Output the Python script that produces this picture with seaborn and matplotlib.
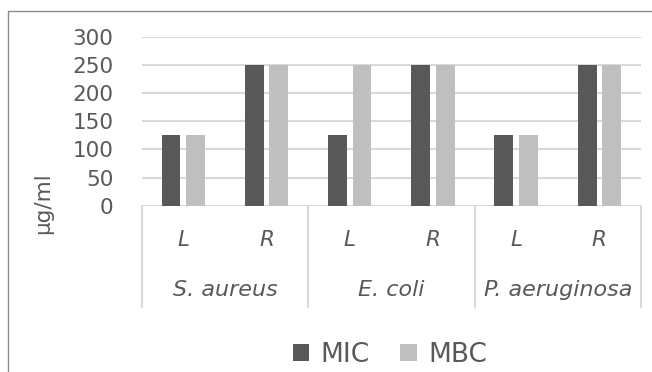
import matplotlib
matplotlib.use("Agg")
import matplotlib.pyplot as plt
import matplotlib.transforms as mtransforms
from matplotlib.lines import Line2D
from matplotlib.patches import Patch
import pandas as pd
import seaborn as sns

# Data
species = ["S. aureus", "E. coli", "P. aeruginosa"]
extracts = ["L", "R"]
mic = [125, 250, 125, 250, 125, 250]
mbc = [125, 250, 250, 250, 125, 250]
series = ["MIC", "MBC"]
colors = {"MIC": "#595959", "MBC": "#BFBFBF"}
yticks = [0, 50, 100, 150, 200, 250, 300]

positions = [f"{s} {e}" for s in species for e in extracts]
df = pd.DataFrame({
    "pos": positions * 2,
    "value": mic + mbc,
    "metric": ["MIC"] * len(mic) + ["MBC"] * len(mbc),
})

sns.set_theme(style="white")
plt.rcParams["font.family"] = ["DejaVu Sans"]
text_color = "#595959"
grid_color = "#D9D9D9"

W, H = 652, 372
fig = plt.figure(figsize=(W / 100, H / 100), dpi=100)
fig.patch.set_facecolor("white")

def fx(px):
    return px / W

def fy(py):
    return 1 - py / H

left, right, top, bottom = 141.7, 641.0, 36.7, 205.7
ax = fig.add_axes([fx(left), fy(bottom), fx(right - left), (bottom - top) / H])

sns.barplot(data=df, x="pos", y="value", hue="metric", order=positions,
            hue_order=series, palette=colors, width=0.59, gap=0.23,
            linewidth=0, legend=False, ax=ax)

ax.set_xlim(-0.5, len(positions) - 0.5)
ax.set_ylim(0, 300)
ax.set_yticks(yticks)
ax.set_yticklabels([str(v) for v in yticks], fontsize=15.5, color=text_color)
ax.tick_params(axis="y", length=0, pad=20.5)
ax.tick_params(axis="x", length=0, labelbottom=False)
ax.set_xlabel("")
ax.set_ylabel("")
for sp in ax.spines.values():
    sp.set_visible(False)
ax.yaxis.grid(True, color=grid_color, linewidth=1.5)
ax.set_axisbelow(True)

# Multi-level category axis
blend = mtransforms.blended_transform_factory(ax.transData, fig.transFigure)
for i, pos in enumerate(positions):
    ax.text(i, fy(240), pos.split(" ")[-1], transform=blend, ha="center",
            va="center", fontsize=15.5, style="italic", color=text_color)
for j, s in enumerate(species):
    ax.text(2 * j + 0.5, fy(290), s, transform=blend, ha="center",
            va="center", fontsize=16, style="italic", color=text_color)
for xb in [-0.5, 1.5, 3.5, 5.5]:
    ax.add_line(Line2D([xb, xb], [fy(bottom), fy(307)], transform=blend,
                       color=grid_color, linewidth=1.5, clip_on=False))

# Y-axis title
fig.text(fx(43), fy(203), "µg/ml", rotation=90, ha="center", va="center",
         fontsize=15.5, color=text_color)

# Chart frame
frame_color = "#8C8C8C"
fig.add_artist(Line2D([fx(8), fx(8)], [fy(11), 0], color=frame_color,
                      linewidth=1.0))
fig.add_artist(Line2D([fx(8), 1], [fy(11), fy(11)], color=frame_color,
                      linewidth=1.0))

# Legend
handles = [Patch(facecolor=colors[m], edgecolor="none", label=m) for m in series]
fig.legend(handles=handles, loc="center", bbox_to_anchor=(fx(390), fy(355)),
           ncol=2, frameon=False, fontsize=19, handlelength=0.62,
           handleheight=0.6, handletextpad=0.45, columnspacing=1.15,
           labelcolor=text_color)

fig.savefig("out.png", dpi=100, facecolor="white")
